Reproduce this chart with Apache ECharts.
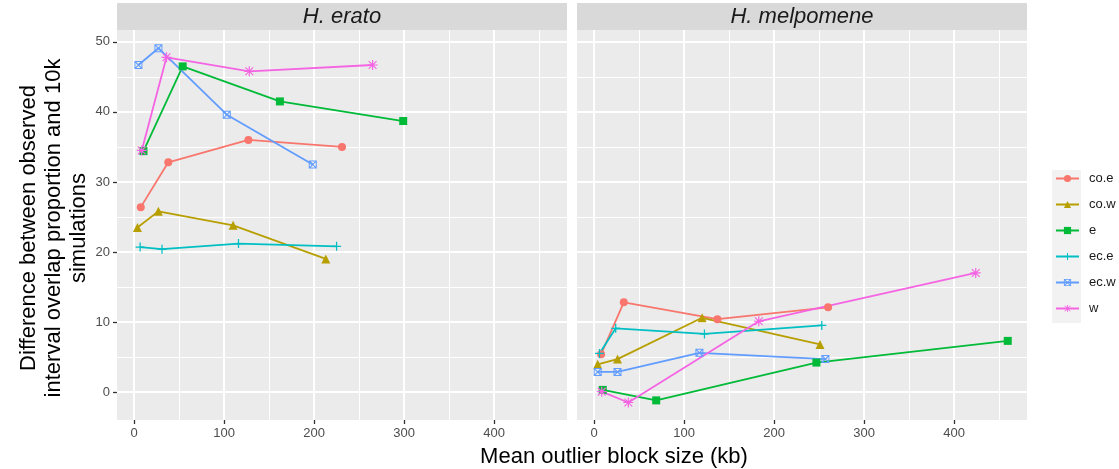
<!DOCTYPE html>
<html>
<head>
<meta charset="utf-8">
<script src="https://cdn.jsdelivr.net/npm/echarts@6/dist/echarts.min.js"></script>
<style>
  html, body { margin: 0; padding: 0; background: #fff; }
  #chart { width: 1119px; height: 469px; }
</style>
</head>
<body>
<div id="chart"></div>
<script>
// groups (legend order) and ggplot default hue colours
const groups = ['co.e', 'co.w', 'e', 'ec.e', 'ec.w', 'w'];
const colors = ['#F8766D', '#B79F00', '#00BA38', '#00BFC4', '#619CFF', '#F564E3'];
const panels = ['H. erato', 'H. melpomene'];

// [mean outlier block size (kb), difference]
const eratoCoE = [[7.4, 26.4], [38, 32.8], [127, 36.0], [231, 35.0]];
const eratoCoW = [[3.7, 23.5], [27, 25.8], [110, 23.8], [213, 19.0]];
const eratoE   = [[10.4, 34.4], [54, 46.5], [162, 41.5], [299, 38.7]];
const eratoEcE = [[6.7, 20.7], [31, 20.4], [116, 21.2], [225, 20.8]];
const eratoEcW = [[4.8, 46.7], [27, 49.1], [103, 39.6], [198.5, 32.5]];
const eratoW   = [[8.5, 34.5], [36, 47.8], [128, 45.8], [265, 46.7]];

const melpCoE = [[7.8, 5.4], [33, 12.8], [137, 10.4], [260, 12.1]];
const melpCoW = [[4, 3.95], [26, 4.7], [120, 10.6], [251, 6.8]];
const melpE   = [[9.6, 0.3], [69, -1.2], [247, 4.2], [459.6, 7.3]];
const melpEcE = [[6, 5.5], [24, 9.1], [122.6, 8.3], [253, 9.5]];
const melpEcW = [[4, 2.86], [26, 2.86], [117, 5.6], [257, 4.7]];
const melpW   = [[8.5, 0.05], [38, -1.5], [183, 10.1], [424, 17.0]];

const xTicks = [0, 100, 200, 300, 400];
const xMinor = [50, 150, 250, 350, 450];
const yTicks = [0, 10, 20, 30, 40, 50];
const yMinor = [5, 15, 25, 35, 45];

const eratoData = [eratoCoE, eratoCoW, eratoE, eratoEcE, eratoEcW, eratoW];
const melpData = [melpCoE, melpCoW, melpE, melpEcE, melpEcW, melpW];

// ggplot shapes: circle, triangle, square, plus, square-cross, asterisk
const symbols = [
  'circle',
  'triangle',
  'rect',
  'path://M4.3,0h1.4v10h-1.4z M0,4.3h10v1.4h-10z',
  'path://M0,0H10V10H0Z M1.2,1.2V8.8H8.8V1.2Z M0,1 L1,0 L10,9 L9,10Z M9,0 L10,1 L1,10 L0,9Z',
  'path://M4.4,0h1.2v10h-1.2z M0,4.4h10v1.2h-10z M0.7,1.5 L1.5,0.7 L9.3,8.5 L8.5,9.3Z M8.5,0.7 L9.3,1.5 L1.5,9.3 L0.7,8.5Z'
];
const symbolSizes = [8, 9, 8, 9, 8, 10];

const chart = echarts.init(document.getElementById('chart'));

const panelBoxes = [
  { left: 117, width: 450, top: 30, height: 390 },
  { left: 577, width: 450, top: 30, height: 390 }
];

// grids 0,1 = panels with data; grids 2,3 = same boxes, only for minor grid lines
const grids = [];
panelBoxes.forEach(g => grids.push(Object.assign({ show: true, backgroundColor: '#ebebeb', borderWidth: 0 }, g)));
panelBoxes.forEach(g => grids.push(Object.assign({ show: false }, g)));

const tickStyle = { color: '#333333', width: 1.3 };

const xAxes = [];
const yAxes = [];
panelBoxes.forEach((g, i) => {
  xAxes.push({
    type: 'value', gridIndex: i, min: -19, max: 481,
    axisLine: { show: false, onZero: false },
    axisTick: { show: true, length: 4, lineStyle: tickStyle, customValues: xTicks },
    axisLabel: { color: '#4d4d4d', fontSize: 13, fontFamily: 'Liberation Sans', margin: 7, customValues: xTicks },
    splitLine: { show: true, lineStyle: { color: '#fff', width: 2 } }
  });
  yAxes.push({
    type: 'value', gridIndex: i, min: -4, max: 51.7,
    axisLine: { show: false, onZero: false },
    axisTick: { show: i === 0, length: 4, lineStyle: tickStyle, customValues: yTicks },
    axisLabel: { show: i === 0, color: '#4d4d4d', fontSize: 13, fontFamily: 'Liberation Sans', margin: 7, customValues: yTicks },
    splitLine: { show: true, lineStyle: { color: '#fff', width: 2 } }
  });
});
panelBoxes.forEach((g, i) => {
  xAxes.push({
    type: 'value', gridIndex: i + 2, min: -19, max: 481,
    axisLine: { show: false, onZero: false }, axisLabel: { show: false },
    axisTick: { show: false, customValues: xMinor },
    splitLine: { show: true, lineStyle: { color: '#fff', width: 1 } }
  });
  yAxes.push({
    type: 'value', gridIndex: i + 2, min: -4, max: 51.7,
    axisLine: { show: false, onZero: false }, axisLabel: { show: false },
    axisTick: { show: false, customValues: yMinor },
    splitLine: { show: true, lineStyle: { color: '#fff', width: 1 } }
  });
});

const series = [];
[eratoData, melpData].forEach((panelData, p) => {
  panelData.forEach((d, k) => {
    series.push({
      name: groups[k],
      type: 'line',
      xAxisIndex: p,
      yAxisIndex: p,
      data: d,
      symbol: symbols[k],
      symbolSize: symbolSizes[k],
      showAllSymbol: true,
      color: colors[k],
      lineStyle: { width: 1.8, color: colors[k] },
      itemStyle: { color: colors[k] },
      emphasis: { disabled: true },
      animation: false,
      z: 3
    });
  });
});

const graphics = [];
panelBoxes.forEach((g, i) => {
  graphics.push({
    type: 'rect', left: g.left, top: 3, z: 0,
    shape: { width: g.width, height: 27 },
    style: { fill: '#d9d9d9' }
  });
  graphics.push({
    type: 'text', x: g.left + g.width / 2, y: 17, z: 1,
    style: {
      text: panels[i], fill: '#1a1a1a', align: 'center', verticalAlign: 'middle',
      font: 'italic 22px "Liberation Sans"'
    }
  });
});
// legend key background
graphics.push({
  type: 'rect', left: 1052, top: 170, z: 0,
  shape: { width: 29, height: 153 },
  style: { fill: '#f2f2f2' }
});
// y axis title
graphics.push({
  type: 'text', x: 54, y: 228, rotation: Math.PI / 2, z: 1,
  style: {
    text: 'Difference between observed\ninterval overlap proportion and 10k\nsimulations',
    fill: '#000', align: 'center', verticalAlign: 'middle',
    font: '22px "Liberation Sans"', lineHeight: 25
  }
});
// x axis title
graphics.push({
  type: 'text', x: 614, y: 457, z: 1,
  style: {
    text: 'Mean outlier block size (kb)', fill: '#000',
    align: 'center', verticalAlign: 'middle',
    font: '22px "Liberation Sans"'
  }
});

chart.setOption({
  backgroundColor: '#fff',
  animation: false,
  grid: grids,
  xAxis: xAxes,
  yAxis: yAxes,
  legend: {
    data: groups,
    orient: 'vertical',
    left: 1055,
    top: 172,
    padding: 0,
    itemWidth: 23,
    itemHeight: 9,
    itemGap: 13,
    textStyle: { color: '#1a1a1a', fontSize: 13, fontFamily: 'Liberation Sans', padding: [0, 0, 0, 5] },
    selectedMode: false
  },
  graphic: graphics,
  series: series
});
</script>
</body>
</html>
